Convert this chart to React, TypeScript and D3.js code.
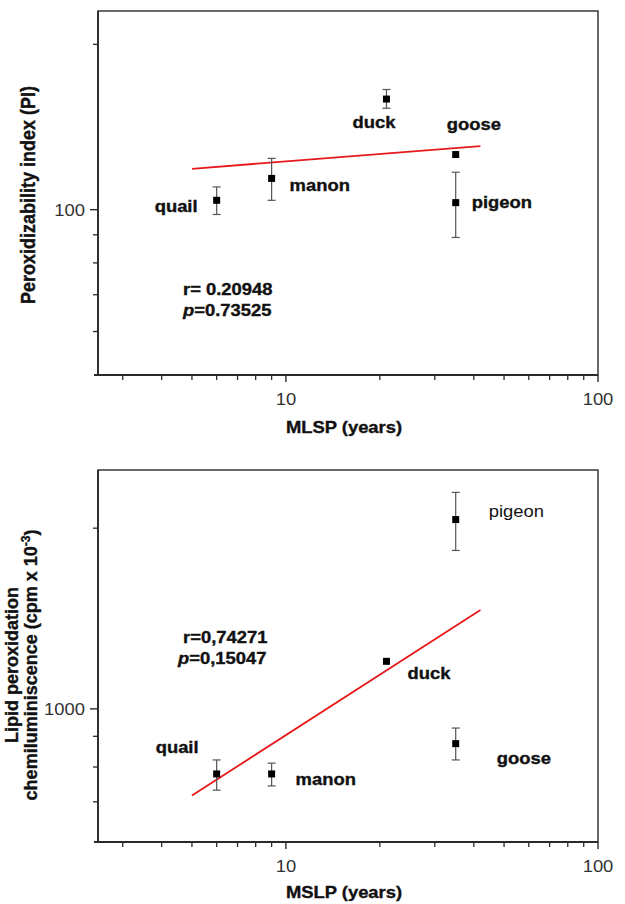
import React from 'react';
import * as d3 from 'd3';

// ---------- data ----------
const species = ['quail', 'manon', 'duck', 'goose', 'pigeon'];
const mlsp = [6, 9, 21, 35, 35];

// Peroxidizability index (PI)
const piMean = [104, 114, 159, 126, 103];
const piLow = [98, 104, 153, 126, 89];
const piHigh = [110, 124, 165.5, 126, 117];
const piFitX = [5, 42];
const piFitY = [118.7, 130.5];

// Lipid peroxidation chemiluminiscence (cpm x 10^-3)
const lcMean = [779, 779, 1200, 875, 2067];
const lcLow = [732, 744, 1200, 822, 1836];
const lcHigh = [822, 812, 1200, 929, 2294];
const lcFitX = [5, 42];
const lcFitY = [717, 1461];

const xDomain = [2.5, 100];
const xMajor = [10, 100];
const xMinor = [3, 4, 5, 6, 7, 8, 9, 20, 30, 40, 50, 60, 70, 80, 90];
const piDomain = [50, 230];
const piMajor = [100];
const piMinor = [60, 70, 80, 90, 200];
const lcDomain = [600, 2500];
const lcMajor = [1000];
const lcMinor = [700, 800, 900, 2000];

const FONT = '"Liberation Sans", Arial, Helvetica, sans-serif';
const SX = 1.15;

function T(props: any) {
  const { x, y, size = 16, weight = 'bold', anchor = 'start', children, fill = '#111', rotate = false, sx = SX } = props;
  const tr = `translate(${x},${y}) scale(${sx},1)` + (rotate ? ' rotate(-90)' : '');
  const heavy = weight === 'bold';
  return (
    <text transform={tr} fontSize={size} fontWeight={weight} textAnchor={anchor}
      fontFamily={FONT} fill={fill} stroke={heavy ? fill : 'none'} strokeWidth={heavy ? 0.35 : 0}>
      {children}
    </text>
  );
}

type PanelProps = {
  top: number; bottom: number;
  yDomain: number[]; yMajor: number[]; yMinor: number[];
  mean: number[]; low: number[]; high: number[];
  fitX: number[]; fitY: number[];
  labelOffsets: Record<string, [number, number, string]>;
  stats: { r: string; p: string; dx: number; dy: number; pdx: number };
  yLabel: React.ReactNode;
  xLabel: string;
  xLabelY: number;
};

const LEFT = 98, RIGHT = 598;

function Panel(pp: PanelProps) {
  const x = d3.scaleLog().domain(xDomain).range([LEFT, RIGHT]);
  const y = d3.scaleLog().domain(pp.yDomain).range([pp.bottom, pp.top]);
  const line = d3.line<number>().x((_, i) => x(pp.fitX[i])).y((d) => y(d));
  const axisCol = '#2a2a2a';
  return (
    <g>
      {/* frame */}
      <rect x={LEFT} y={pp.top} width={RIGHT - LEFT} height={pp.bottom - pp.top}
        fill="none" stroke={axisCol} strokeWidth={1.4} />
      <line x1={LEFT - 4} x2={RIGHT} y1={pp.bottom} y2={pp.bottom} stroke={axisCol} strokeWidth={1.8} />
      <line x1={LEFT} x2={LEFT} y1={pp.top} y2={pp.bottom} stroke={axisCol} strokeWidth={1.8} />
      {/* x ticks */}
      {xMinor.map((v) => (
        <line key={'xm' + v} x1={x(v)} x2={x(v)} y1={pp.bottom} y2={pp.bottom + 5} stroke={axisCol} strokeWidth={1.3} />
      ))}
      {xMajor.map((v) => (
        <g key={'xM' + v}>
          <line x1={x(v)} x2={x(v)} y1={pp.bottom} y2={pp.bottom + 7} stroke={axisCol} strokeWidth={1.4} />
          <T x={x(v)} y={pp.bottom + 30} size={16} weight="normal" anchor="middle" fill="#333">{v}</T>
        </g>
      ))}
      {/* y ticks */}
      {pp.yMinor.map((v) => (
        <line key={'ym' + v} x1={LEFT - 5} x2={LEFT} y1={y(v)} y2={y(v)} stroke={axisCol} strokeWidth={1.3} />
      ))}
      {pp.yMajor.map((v) => (
        <g key={'yM' + v}>
          <line x1={LEFT - 8} x2={LEFT} y1={y(v)} y2={y(v)} stroke={axisCol} strokeWidth={1.4} />
          <T x={LEFT - 13} y={y(v) + 6} size={16} weight="normal" anchor="end" fill="#333">{v}</T>
        </g>
      ))}
      {/* fit line */}
      <path d={line(pp.fitY) || ''} fill="none" stroke="#e8191c" strokeWidth={1.8} />
      {/* error bars */}
      {species.map((s, i) => {
        const cx = x(mlsp[i]);
        const y1 = y(pp.low[i]), y2 = y(pp.high[i]);
        if (Math.abs(y1 - y2) < 1) return null;
        return (
          <g key={'e' + s} stroke="#555" strokeWidth={1.2}>
            <line x1={cx} x2={cx} y1={y1} y2={y2} />
            <line x1={cx - 4} x2={cx + 4} y1={y1} y2={y1} />
            <line x1={cx - 4} x2={cx + 4} y1={y2} y2={y2} />
          </g>
        );
      })}
      {/* points */}
      {species.map((s, i) => (
        <rect key={'p' + s} x={x(mlsp[i]) - 3.5} y={y(pp.mean[i]) - 3.5} width={7} height={7} fill="#000" />
      ))}
      {/* labels */}
      {species.map((s, i) => {
        const [dx, dy, w] = pp.labelOffsets[s];
        return (
          <T key={'l' + s} x={x(mlsp[i]) + dx} y={y(pp.mean[i]) + dy} size={16} weight={w}>{s}</T>
        );
      })}
      {/* stats */}
      <T x={LEFT + pp.stats.dx} y={pp.top + pp.stats.dy} size={16}>{pp.stats.r}</T>
      <T x={LEFT + pp.stats.dx + pp.stats.pdx} y={pp.top + pp.stats.dy + 21} size={16}>
        <tspan fontStyle="italic">p</tspan>{pp.stats.p}
      </T>
      {/* x label */}
      <T x={(LEFT + RIGHT) / 2 - 4} y={pp.xLabelY} size={16} anchor="middle">{pp.xLabel}</T>
      {pp.yLabel}
    </g>
  );
}

export default function App() {
  return (
    <svg width={625} height={904} style={{ position: 'absolute', left: 0, top: 0, background: '#fff' }}>
      <rect width={625} height={904} fill="#fff" />
      <Panel
        top={11} bottom={375}
        yDomain={piDomain} yMajor={piMajor} yMinor={piMinor}
        mean={piMean} low={piLow} high={piHigh}
        fitX={piFitX} fitY={piFitY}
        labelOffsets={{
          quail: [-62, 12, 'bold'],
          manon: [18, 13, 'bold'],
          duck: [-34, 29, 'bold'],
          goose: [-9, -25, 'bold'],
          pigeon: [16, 5, 'bold'],
        }}
        stats={{ r: 'r= 0.20948', p: '=0.73525', dx: 85, dy: 284, pdx: 0 }}
        xLabel="MLSP (years)"
        xLabelY={433}
        yLabel={
          <T x={35} y={195} size={18} anchor="middle" rotate>Peroxidizability index (PI)</T>
        }
      />
      <Panel
        top={470} bottom={842}
        yDomain={lcDomain} yMajor={lcMajor} yMinor={lcMinor}
        mean={lcMean} low={lcLow} high={lcHigh}
        fitX={lcFitX} fitY={lcFitY}
        labelOffsets={{
          quail: [-61, -21, 'bold'],
          manon: [24, 11, 'bold'],
          duck: [21, 18, 'bold'],
          goose: [41, 20, 'bold'],
          pigeon: [33, -3, 'normal'],
        }}
        stats={{ r: 'r=0,74271', p: '=0,15047', dx: 85, dy: 173, pdx: -5 }}
        xLabel="MSLP (years)"
        xLabelY={898}
        yLabel={
          <g>
            <T x={18} y={665} size={18} sx={1} anchor="middle" rotate>Lipid peroxidation</T>
            <T x={37} y={665} size={18} sx={1} anchor="middle" rotate>
              chemiluminiscence (cpm x 10<tspan fontSize={12} dy={-7}>-3</tspan><tspan dy={7}>)</tspan>
            </T>
          </g>
        }
      />
    </svg>
  );
}
